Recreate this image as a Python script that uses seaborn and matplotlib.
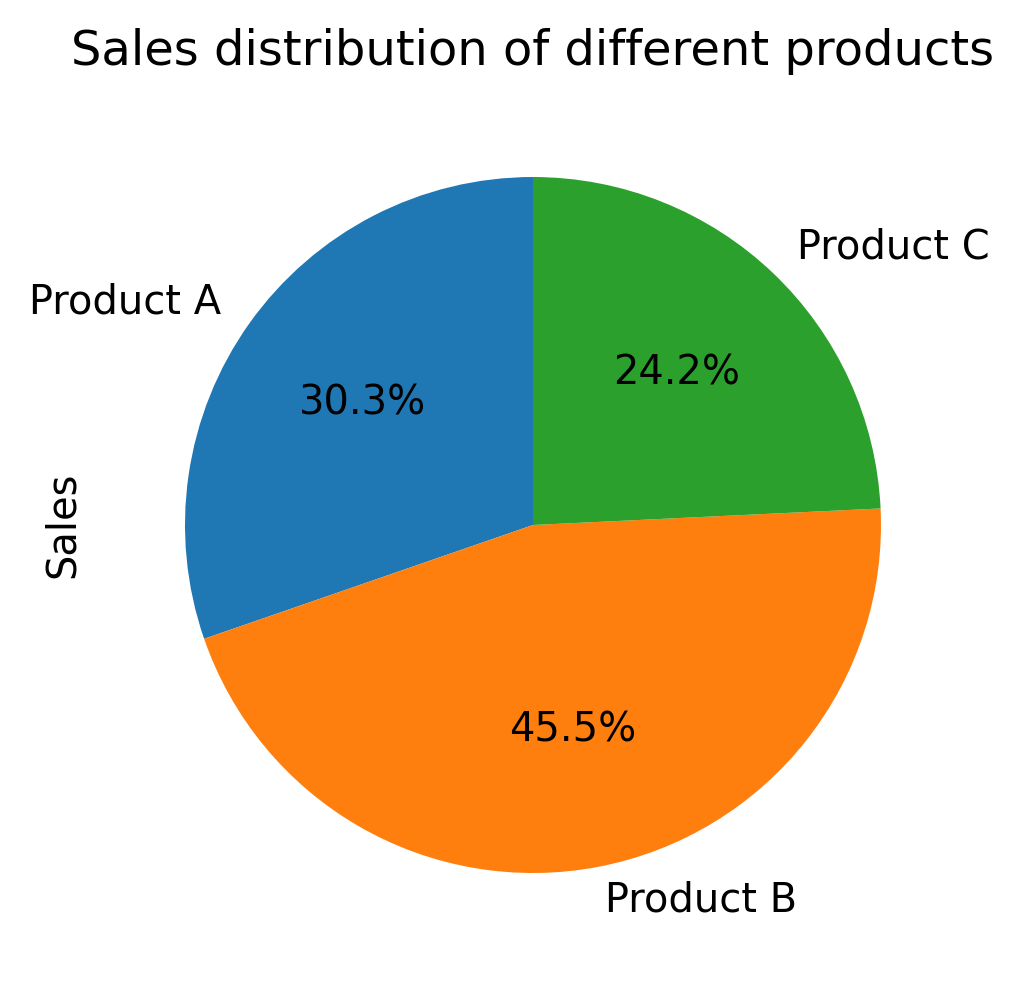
import seaborn as sns
import matplotlib.pyplot as plt

# Data
products = ['Product A', 'Product B', 'Product C']
sales = [100, 150, 80]

colors = sns.color_palette('tab10', 3)

fig, ax = plt.subplots(figsize=(1024 / 200, 989 / 200), dpi=200)
ax.pie(sales, labels=products, colors=colors, autopct='%1.1f%%', startangle=90,
       textprops={'fontsize': 14.4})
ax.set_ylabel('Sales', fontsize=14.4, labelpad=5.5)
ax.set_title('Sales distribution of different products', fontsize=17.3, pad=9)
ax.set_aspect('equal')
plt.subplots_adjust(left=0.0957, right=0.9453, top=0.909, bottom=0.0293)
fig.savefig('out.png', dpi=200)
